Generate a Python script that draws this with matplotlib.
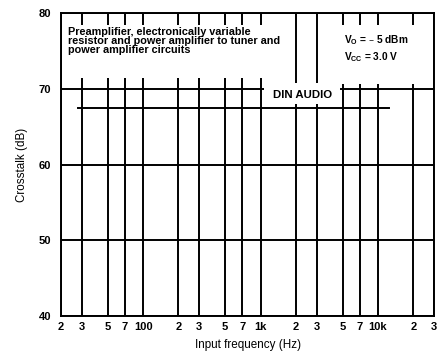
import matplotlib.pyplot as plt
from matplotlib.patches import Rectangle
from matplotlib.ticker import FixedLocator, NullLocator

# data
freq_hz = [28, 12500]
crosstalk_db = [67.5, 67.5]

xticks = [20, 30, 50, 70, 100, 200, 300, 500, 700, 1000,
          2000, 3000, 5000, 7000, 10000, 20000, 30000]
xlabels = ["2", "3", "5", "7", "100", "2", "3", "5", "7", "1k",
           "2", "3", "5", "7", "10k", "2", "3"]
yticks = [40, 50, 60, 70, 80]

plt.rcParams["font.family"] = ["Liberation Sans", "DejaVu Sans"]
plt.rcParams["font.weight"] = "bold"

fig = plt.figure(figsize=(4.43, 3.57), dpi=100)
ax = fig.add_axes([0.1377, 0.1148, 0.842, 0.8488])

ax.set_xscale("log")
ax.set_xlim(20, 30000)
ax.set_ylim(40, 80)
ax.xaxis.set_major_locator(FixedLocator(xticks))
ax.xaxis.set_minor_locator(NullLocator())
ax.set_xticklabels(xlabels)
ax.set_yticks(yticks)
ax.tick_params(length=0, labelsize=8, pad=4)
ax.tick_params(axis="y", pad=7)
ax.grid(True, color="black", linewidth=1.4, zorder=1)
for s in ax.spines.values():
    s.set_linewidth(1.4)
    s.set_zorder(6)

# white boxes behind the annotations interrupt the grid
for x0, x1, y0, y1 in [(0.004, 0.60, 0.785, 0.962),
                       (0.708, 0.995, 0.766, 0.962),
                       (0.545, 0.748, 0.70, 0.769)]:
    ax.add_patch(Rectangle((x0, y0), x1 - x0, y1 - y0, transform=ax.transAxes,
                           facecolor="white", edgecolor="none", zorder=2))

ax.plot(freq_hz, crosstalk_db, color="black", linewidth=1.4, zorder=3)

ax.text(0.019, 0.955, "Preamplifier, electronically variable\n"
        "resistor and power amplifier to tuner and\n"
        "power amplifier circuits",
        transform=ax.transAxes, ha="left", va="top", fontsize=7.8,
        linespacing=0.92, zorder=4)
ax.text(0.76, 0.91, "$\\mathregular{V_O}$ = – 5 dBm",
        transform=ax.transAxes, ha="left", va="center", fontsize=7.3, zorder=4)
ax.text(0.76, 0.855, "$\\mathregular{V_{CC}}$ = 3.0 V",
        transform=ax.transAxes, ha="left", va="center", fontsize=7.3, zorder=4)
ax.text(0.647, 0.73, "DIN AUDIO", transform=ax.transAxes, ha="center", va="center",
        fontsize=8.2, zorder=4)

ax.set_xlabel("Input frequency (Hz)", fontsize=8.4, labelpad=5)
ax.set_ylabel("Crosstalk (dB)", fontsize=8.4, labelpad=8)

fig.savefig("out.png", dpi=100)
